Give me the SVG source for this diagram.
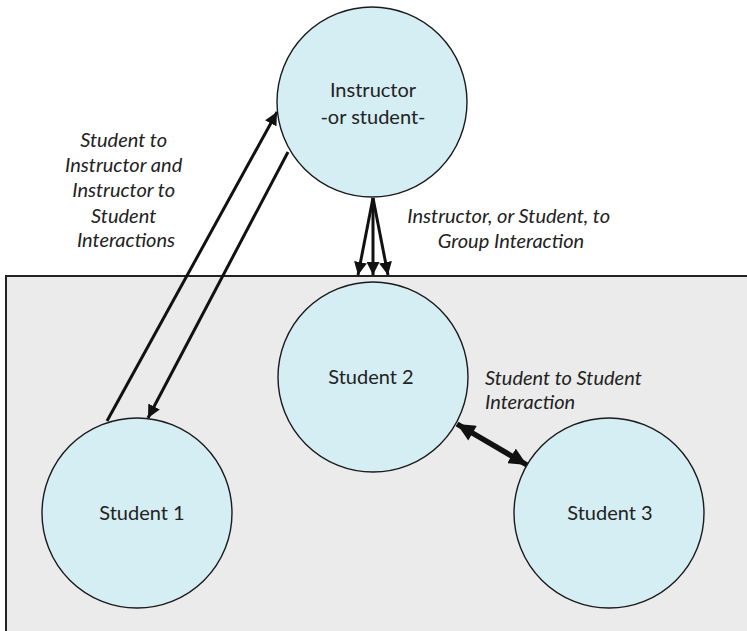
<svg xmlns="http://www.w3.org/2000/svg" width="747" height="631" viewBox="0 0 747 631">
<style>
  .node { fill: #d5eef3; stroke: #1a1a1a; stroke-width: 1.4; }
  .ntext { font-family: Lato, "Liberation Sans", sans-serif; font-size: 20px; fill: #222; text-anchor: middle; }
  .label { font-family: Lato, "Liberation Sans", sans-serif; font-size: 20px; font-style: italic; fill: #222; }
  .conn { stroke: #111; stroke-width: 3; fill: none; }
  .thick { stroke: #111; stroke-width: 5.5; fill: none; }
</style>
<defs>
  <marker id="ah" markerUnits="userSpaceOnUse" markerWidth="14" markerHeight="13" refX="13" refY="6.5" orient="auto">
    <path d="M0,0 L13,6.5 L0,13 z" fill="#111"/>
  </marker>
  <marker id="ahb" markerUnits="userSpaceOnUse" markerWidth="19" markerHeight="17" refX="18" refY="8.5" orient="auto">
    <path d="M0,0 L18,8.5 L0,17 z" fill="#111"/>
  </marker>
  <marker id="ahbs" markerUnits="userSpaceOnUse" markerWidth="19" markerHeight="17" refX="0" refY="8.5" orient="auto">
    <path d="M18,0 L0,8.5 L18,17 z" fill="#111"/>
  </marker>
</defs>
<rect id="group-area" x="6" y="276" width="760" height="400" fill="#ebebeb" stroke="#222" stroke-width="2"/>
<g id="connectors">
  <line class="conn" x1="107" y1="421" x2="277" y2="112" marker-end="url(#ah)"/>
  <line class="conn" x1="288" y1="152" x2="148" y2="418" marker-end="url(#ah)"/>
  <line class="conn" x1="373" y1="198" x2="358" y2="275" marker-end="url(#ah)"/>
  <line class="conn" x1="373" y1="198" x2="373" y2="275" marker-end="url(#ah)"/>
  <line class="conn" x1="373" y1="198" x2="388" y2="275" marker-end="url(#ah)"/>
  <line class="thick" x1="457" y1="424" x2="527" y2="465" marker-start="url(#ahbs)" marker-end="url(#ahb)"/>
</g>
<g id="instructor">
  <circle class="node" cx="372" cy="102" r="95"/>
  <text class="ntext" x="373" y="97">Instructor</text>
  <text class="ntext" x="373" y="124">-or student-</text>
</g>
<g id="student2">
  <circle class="node" cx="373" cy="377" r="95"/>
  <text class="ntext" x="371" y="384">Student 2</text>
</g>
<g id="student1">
  <circle class="node" cx="137" cy="513" r="95"/>
  <text class="ntext" x="142" y="520">Student 1</text>
</g>
<g id="student3">
  <circle class="node" cx="609" cy="513" r="95"/>
  <text class="ntext" x="610" y="520">Student 3</text>
</g>
<g id="labels">
  <text class="label" text-anchor="middle">
    <tspan x="126" y="147">Student to</tspan>
    <tspan x="126" y="172">Instructor and</tspan>
    <tspan x="126" y="197">Instructor to</tspan>
    <tspan x="126" y="223">Student</tspan>
    <tspan x="126" y="247">Interactions</tspan>
  </text>
  <text class="label" text-anchor="middle">
    <tspan x="511" y="223">Instructor, or Student, to</tspan>
    <tspan x="511" y="248">Group Interaction</tspan>
  </text>
  <text class="label">
    <tspan x="485" y="385">Student to Student</tspan>
    <tspan x="485" y="409">Interaction</tspan>
  </text>
</g>
</svg>
